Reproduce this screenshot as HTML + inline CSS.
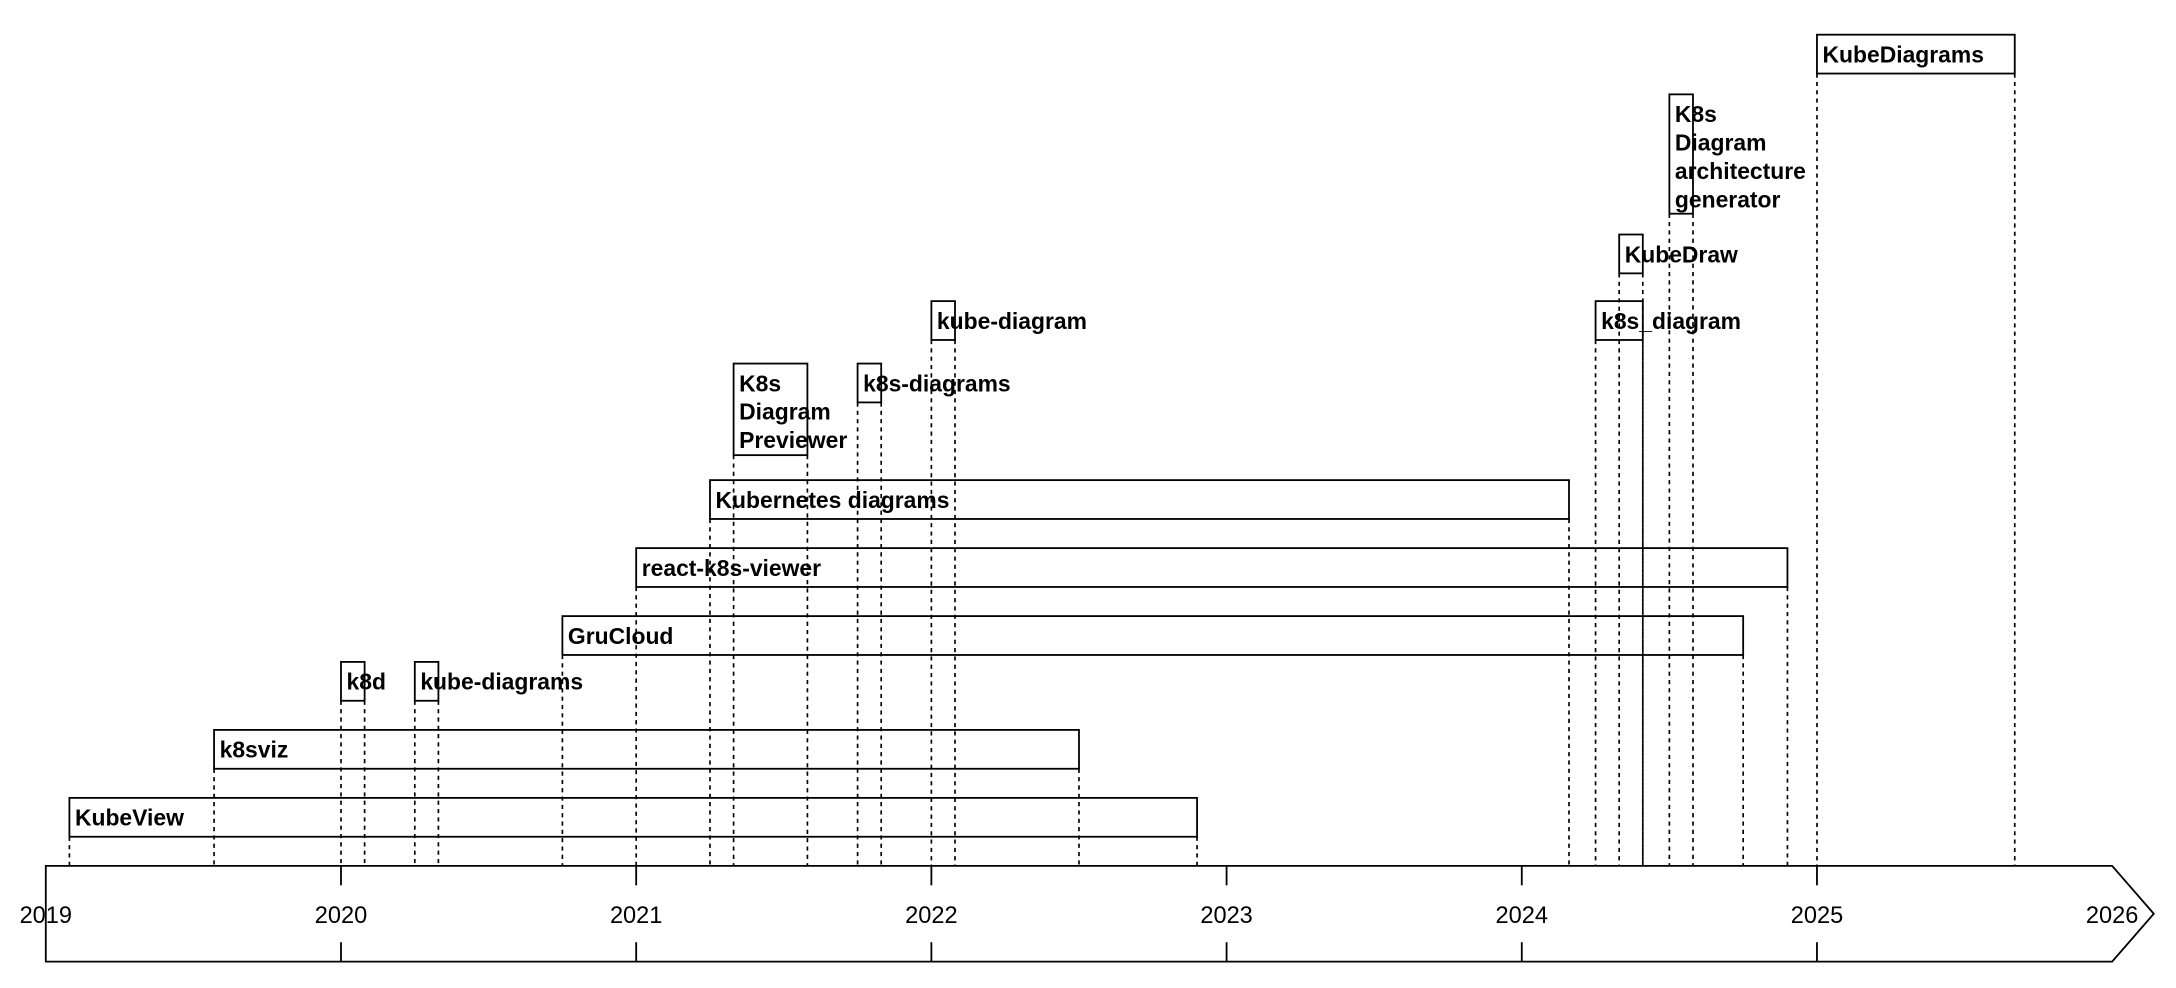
<!DOCTYPE html>
<html><head><meta charset="utf-8"><style>
html,body{margin:0;padding:0;background:#fff;}
svg{display:block;font-family:"Liberation Sans",Arial,sans-serif;}
</style></head><body>
<svg id="chart" width="2176" height="988" viewBox="0 0 1568 712" preserveAspectRatio="none" xmlns="http://www.w3.org/2000/svg">
<g id="axis"></g>
<g id="bars"></g>
</svg>
<script>
const names = ["KubeView","k8sviz","k8d","kube-diagrams","GruCloud","react-k8s-viewer","Kubernetes diagrams","K8s\nDiagram\nPreviewer","k8s-diagrams","kube-diagram","k8s_diagram","KubeDraw","K8s\nDiagram\narchitecture\ngenerator","KubeDiagrams"];
const starts = [2019.08,2019.57,2020.0,2020.25,2020.75,2021.0,2021.25,2021.33,2021.75,2022.0,2024.25,2024.33,2024.5,2025.0];
const ends   = [2022.9,2022.5,2020.08,2020.33,2024.75,2024.9,2024.16,2021.58,2021.83,2022.08,2024.41,2024.41,2024.58,2025.67];
const laneTops = [575,526,477,477,444,395,346,262,262,217,217,169,68,25];
const lineCounts = names.map(n => n.split("\n").length);
const years = [2019,2020,2021,2022,2023,2024,2025,2026];

const NS="http://www.w3.org/2000/svg";
const X0=33, X1=1522, Y0=2019, Y1=2026;
const xs = v => X0 + (v - Y0) * (X1 - X0) / (Y1 - Y0);
const AX_TOP=624, AX_BOT=693;
function mk(tag, attrs, parent){const e=document.createElementNS(NS,tag);for(const k in attrs)e.setAttribute(k,attrs[k]);parent.appendChild(e);return e;}
const axis=document.getElementById('axis'), bars=document.getElementById('bars');

const outline = mk('path',{d:`M${X0},${AX_TOP} L${X1},${AX_TOP} L${X1+30},${(AX_TOP+AX_BOT)/2} L${X1},${AX_BOT} L${X0},${AX_BOT} Z`,fill:'#fff',stroke:'#000','stroke-width':1.3},axis);


years.forEach(y=>{
  const x=xs(y);
  if(y>Y0 && y<Y1){
    const t1=mk('line',{x1:x,x2:x,y1:AX_TOP,y2:AX_TOP+14,stroke:'#000','stroke-width':1.3},axis);
    
    
    const t2=mk('line',{x1:x,x2:x,y1:AX_BOT-14,y2:AX_BOT,stroke:'#000','stroke-width':1.3},axis);
    
    
  }
  const t=mk('text',{x:x,y:665,'text-anchor':'middle','font-size':17},axis);
  t.textContent=y;
  
  
});

names.forEach((n,i)=>{
  const xa=xs(starts[i]), xb=xs(ends[i]);
  const h = lineCounts[i]===1 ? 28 : 20*lineCounts[i]+6;
  const top=laneTops[i], bot=top+h;
  [xa,xb].forEach((x,k)=>{
    const l=mk('line',{x1:x,x2:x,y1:bot,y2:AX_TOP,stroke:'#000','stroke-width':1.2,'stroke-dasharray':'3,3','stroke-dashoffset':(i===10&&k===1)?3:0},bars);
    
    
  });
  const r=mk('rect',{x:xa,y:top,width:xb-xa,height:h,fill:'#fff',stroke:'#000','stroke-width':1.3},bars);
  
  
});
names.forEach((n,i)=>{
  const xa=xs(starts[i]);
  const t=mk('text',{x:xa+4,y:laneTops[i]+20,'font-size':16.5,'font-weight':'bold'},bars);
  
  
  n.split("\n").forEach((ln,j)=>{
    const s=mk('tspan',{x:xa+4,dy:j?20.5:0},t);
    s.textContent=ln;
  });
});
</script>
</body></html>
